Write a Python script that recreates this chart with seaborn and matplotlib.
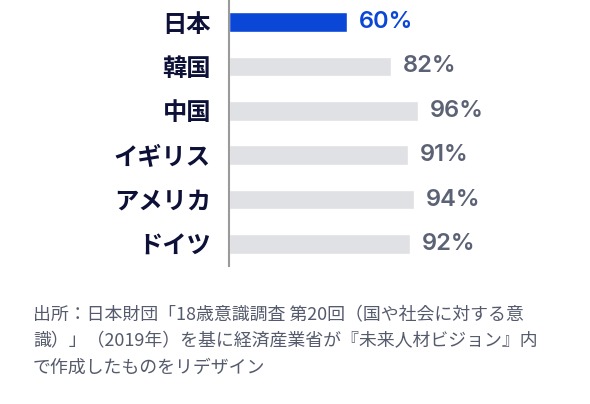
import numpy as np
import pandas as pd
import matplotlib
matplotlib.use('Agg')
import matplotlib.pyplot as plt
import seaborn as sns

# dati
countries = ['日本', '韓国', '中国', 'イギリス', 'アメリカ', 'ドイツ']
values = [60, 82, 96, 91, 94, 92]
note_lines = ['出所：日本財団「18歳意識調査 第20回（国や社会に対する意',
              '識）」（2019年）を基に経済産業省が『未来人材ビジョン』内',
              'で作成したものをリデザイン']

BLUE = '#0a47d6'
GREY_BAR = '#e0e1e4'
GREY_TXT = '#5c6275'
NAVY = '#0d1137'

sns.set_theme(style='white')
plt.rcParams['font.family'] = ['Noto Sans CJK JP', 'DejaVu Sans']

df = pd.DataFrame({'country': countries, 'value': values})
palette = {c: (BLUE if c == '日本' else GREY_BAR) for c in countries}

fig = plt.figure(figsize=(5.9, 4.04), dpi=100)
ax = fig.add_axes([229/590, 1 - 266/404, 1 - 229/590, 266/404])

sns.barplot(data=df, x='value', y='country', hue='country', palette=palette,
            width=0.45, legend=False, ax=ax, saturation=1)

px = 1.97  # pixel per punto percentuale
ax.set_xlim(0, (590 - 229) / px)
ax.set_ylim(5.5, -0.5)
ax.set_xlabel('')
ax.set_ylabel('')
ax.set_xticks([])
ax.tick_params(axis='y', length=0, pad=13)
for lab in ax.get_yticklabels():
    lab.set_fontsize(17.5)
    lab.set_fontweight('bold')
    lab.set_color(NAVY)

for s in ['top', 'right', 'bottom']:
    ax.spines[s].set_visible(False)
ax.spines['left'].set_color('#9a9a9a')
ax.spines['left'].set_linewidth(1.5)

for i, v in enumerate(values):
    ax.text(v + 12 / px, i, f'{v}%', va='center', ha='left',
            fontsize=17, fontfamily='Inter', fontweight='semibold',
            color=BLUE if i == 0 else GREY_TXT)

for k, line in enumerate(note_lines):
    y = [315, 341, 368][k]
    fig.text(33/590, 1 - y/404, line, va='center', ha='left',
             fontsize=12.9, color='#555b6d')

fig.savefig('out.png', dpi=100)
